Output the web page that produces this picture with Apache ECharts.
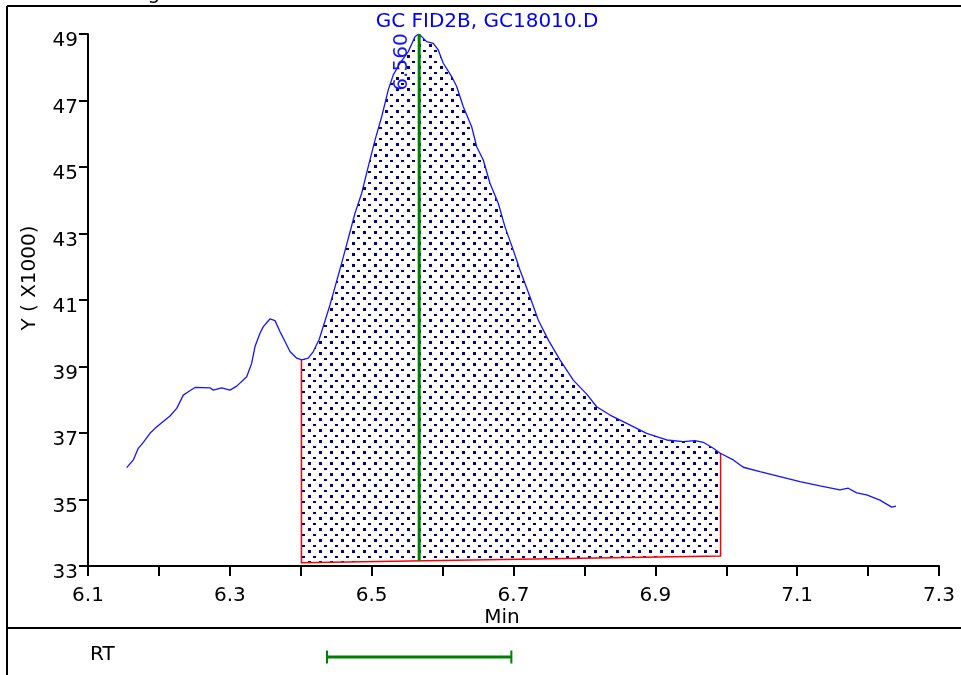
<!DOCTYPE html>
<html><head><meta charset="utf-8">
<script src="https://cdn.jsdelivr.net/npm/echarts@6/dist/echarts.min.js"></script>
<style>html,body{margin:0;padding:0;background:#fff}#c{width:961px;height:675px}</style>
</head><body><div id="c"></div>
<script>
// ---- data ----
const timeMin = [6.1546,6.1639,6.1709,6.1780,6.1874,6.1945,6.2039,6.2156,6.2251,6.2344,
  6.2414,6.2509,6.2720,6.2767,6.2885,6.3002,6.3097,6.3238,6.3308,6.3355,
  6.3425,6.3472,6.3566,6.3637,6.3707,6.3778,6.3848,6.3943,6.4013,6.4106,
  6.4177,6.4261,6.4412,6.4581,6.4765,6.4859,6.4952,6.5047,6.5141,6.5234,
  6.5305,6.5399,6.5516,6.5611,6.5657,6.5705,6.5776,6.5869,6.5939,6.6010,
  6.6128,6.6199,6.6292,6.6410,6.6481,6.6574,6.6668,6.6785,6.6880,6.6997,
  6.7091,6.7232,6.7349,6.7490,6.7655,6.7843,6.8032,6.8173,6.8360,6.8596,
  6.8878,6.9160,6.9394,6.9559,6.9676,6.9817,6.9916,7.0099,7.0240,7.0475,
  7.0757,7.1039,7.1321,7.1603,7.1720,7.1839,7.1980,7.2167,7.2333,7.2393];
const signalK = [35.96,36.19,36.54,36.72,36.99,37.14,37.31,37.51,37.74,38.14,
  38.24,38.37,38.36,38.29,38.36,38.29,38.41,38.69,39.10,39.60,
  40.00,40.20,40.43,40.38,40.05,39.75,39.45,39.25,39.20,39.25,
  39.45,39.82,40.85,42.14,43.61,44.21,45.01,45.81,46.51,47.32,
  47.77,48.12,48.47,48.92,48.99,48.92,48.77,48.72,48.52,48.12,
  47.72,47.42,46.81,46.21,45.61,45.21,44.51,43.91,43.20,42.50,
  41.90,41.10,40.40,39.80,39.20,38.59,38.17,37.79,37.54,37.29,
  36.99,36.79,36.74,36.77,36.72,36.54,36.39,36.19,35.97,35.84,
  35.69,35.54,35.41,35.29,35.34,35.20,35.14,34.98,34.77,34.80];
const peakBounds = [6.401, 6.992];      // integration start / end (min)
const baselineK = [33.10, 33.30];       // baseline at start / end
const peakRT = 6.567;
const peakLabel = '6.560';
const rtWindow = [6.437, 6.697];
const xTickLabels = ['6.1','6.3','6.5','6.7','6.9','7.1','7.3'];
const yTickLabels = ['33','35','37','39','41','43','45','47','49'];
const titleText = 'GC FID2B, GC18010.D';
const xName = 'Min';
const yName = 'Y ( X1000)';
const rtText = 'RT';

const FONT = 'DejaVu Sans';
function curveAt(x){
  for (let i=0;i<timeMin.length-1;i++){
    if (x>=timeMin[i] && x<=timeMin[i+1]){
      const t=(x-timeMin[i])/(timeMin[i+1]-timeMin[i]);
      return signalK[i]+t*(signalK[i+1]-signalK[i]);
    }
  }
  return signalK[signalK.length-1];
}
function baseAt(x){
  const t=(x-peakBounds[0])/(peakBounds[1]-peakBounds[0]);
  return baselineK[0]+t*(baselineK[1]-baselineK[0]);
}
// dot pattern
const pc=document.createElement('canvas'); pc.width=11; pc.height=11;
const pctx=pc.getContext('2d'); pctx.fillStyle='#000080';
pctx.fillRect(0,0,3,3); pctx.fillRect(5,6,3,2);

const chart=echarts.init(document.getElementById('c'),null,{renderer:'canvas'});
const option={
  animation:false,
  backgroundColor:'#fff',
  grid:[{left:88,right:22,top:34,bottom:109},{left:88,right:22,top:640,height:34}],
  xAxis:[{type:'value',min:6.1,max:7.3,interval:0.1,gridIndex:0,
    axisLine:{lineStyle:{color:'#000',width:2}},
    axisTick:{length:10,lineStyle:{color:'#000',width:2}},
    splitLine:{show:false},
    axisLabel:{margin:20,color:'#000',fontFamily:FONT,fontSize:20,
      formatter:v=>{const k=Math.round(v*10)-61; return k%2===0?xTickLabels[k/2]:'';}}},
    {type:'value',min:6.1,max:7.3,gridIndex:1,show:false}],
  yAxis:[{type:'value',min:33,max:49,interval:2,gridIndex:0,
    axisLine:{show:true,lineStyle:{color:'#000',width:2}},
    axisTick:{show:true,length:9,lineStyle:{color:'#000',width:2}},
    splitLine:{show:false},
    axisLabel:{margin:10,color:'#000',fontFamily:FONT,fontSize:20,verticalAlign:'top',lineHeight:14,
      formatter:v=>yTickLabels[Math.round((v-33)/2)]}},
    {type:'value',min:0,max:1,gridIndex:1,show:false}],
  graphic:[
    {type:'line',shape:{x1:7,y1:6,x2:961,y2:6},style:{stroke:'#000',lineWidth:2}},
    {type:'line',shape:{x1:7,y1:6,x2:7,y2:675},style:{stroke:'#000',lineWidth:2}},
    {type:'line',shape:{x1:7,y1:628,x2:961,y2:628},style:{stroke:'#000',lineWidth:2}},
    {type:'text',x:49,y:4,style:{text:'Chromatogram',font:'20px "DejaVu Sans"',fill:'#000',verticalAlign:'bottom'}},
    {type:'text',x:487,y:22,style:{text:titleText,font:'20px "DejaVu Sans"',fill:'#0000ff',align:'center',verticalAlign:'middle'}},
    {type:'text',x:502,y:618,style:{text:xName,font:'20px "DejaVu Sans"',fill:'#000',align:'center',verticalAlign:'middle'}},
    {type:'text',x:30,y:278,rotation:Math.PI/2,style:{text:yName,font:'20px "DejaVu Sans"',fill:'#000',align:'center',verticalAlign:'middle'}},
    {type:'text',x:90,y:655,style:{text:rtText,font:'20px "DejaVu Sans"',fill:'#000',align:'left',verticalAlign:'middle'}}
  ],
  series:[
    {type:'custom',xAxisIndex:0,yAxisIndex:0,z:1,silent:true,
      data:[[peakBounds[0],baselineK[0]]],
      renderItem:function(params,api){
        const a=peakBounds[0], b=peakBounds[1];
        const pA0=api.coord([a,baseAt(a)]), pA1=api.coord([a,curveAt(a)]);
        const pB0=api.coord([b,baseAt(b)]), pB1=api.coord([b,curveAt(b)]);
        const pts=[pA0,pA1];
        for(let i=0;i<timeMin.length;i++){ if(timeMin[i]>a && timeMin[i]<b) pts.push(api.coord([timeMin[i],signalK[i]])); }
        pts.push(pB1,pB0);
        return {type:'group',children:[
          {type:'polygon',shape:{points:pts},style:{fill:{image:pc,repeat:'repeat'},stroke:null}},
          {type:'polyline',shape:{points:[pA1,pA0,pB0,pB1]},style:{stroke:'#ff0000',lineWidth:1.5,fill:null}}
        ]};
      }},
    {type:'line',xAxisIndex:0,yAxisIndex:0,z:2,silent:true,showSymbol:false,symbol:'none',
      data:timeMin.map((t,i)=>[t,signalK[i]]),
      lineStyle:{color:'#1414ff',width:1.3}},
    {type:'custom',xAxisIndex:0,yAxisIndex:0,z:3,silent:true,
      data:[[peakRT,49]],
      renderItem:function(params,api){
        const top=api.coord([peakRT,49]), bot=api.coord([peakRT,baseAt(peakRT)]);
        return {type:'group',children:[
          {type:'line',shape:{x1:top[0],y1:top[1],x2:bot[0],y2:bot[1]},style:{stroke:'#008000',lineWidth:3}},
          {type:'text',x:top[0]-17,y:top[1]+28,rotation:Math.PI/2,
            style:{text:peakLabel,font:'20px "DejaVu Sans"',fill:'#1414ff',align:'center',verticalAlign:'middle'}}
        ]};
      }},
    {type:'custom',xAxisIndex:1,yAxisIndex:1,z:3,silent:true,
      data:[[rtWindow[0],rtWindow[1]]],
      renderItem:function(params,api){
        const p0=api.coord([rtWindow[0],0.5]), p1=api.coord([rtWindow[1],0.5]);
        const s={stroke:'#008000',lineWidth:3};
        const c={stroke:'#008000',lineWidth:2};
        return {type:'group',children:[
          {type:'line',shape:{x1:p0[0],y1:p0[1],x2:p1[0],y2:p1[1]},style:s},
          {type:'line',shape:{x1:p0[0],y1:p0[1]-6.5,x2:p0[0],y2:p0[1]+6.5},style:c},
          {type:'line',shape:{x1:p1[0],y1:p1[1]-6.5,x2:p1[0],y2:p1[1]+6.5},style:c}
        ]};
      }}
  ]
};
chart.setOption(option);
</script></body></html>
